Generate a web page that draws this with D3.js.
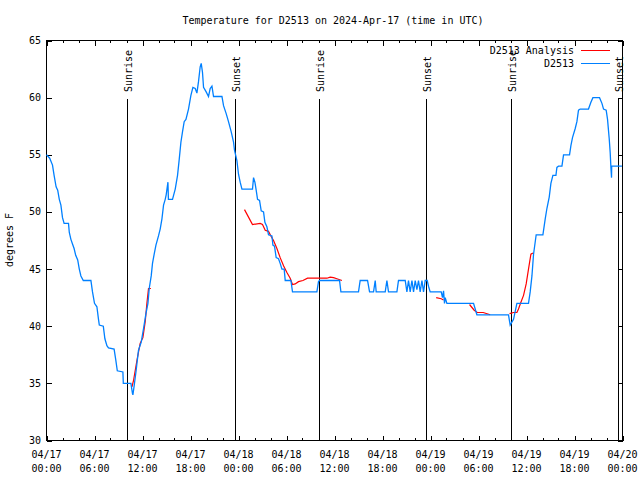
<!DOCTYPE html>
<html><head><meta charset="utf-8">
<script src="https://cdn.jsdelivr.net/npm/d3@7"></script>
<style>
body{margin:0;background:#fff}
text{font-family:"DejaVu Sans Mono","Liberation Mono",monospace;font-size:10px;fill:#000}
</style>
</head><body><svg id="c" width="640" height="480"></svg>
<script>
const chartTitle = "Temperature for D2513 on 2024-Apr-17 (time in UTC)";
const yLabel = "degrees F";
const yTickValues = [30,35,40,45,50,55,60,65];
const startDate = "2024-04-17T00:00:00Z";
const endDate = "2024-04-20T00:00:00Z";
const seriesNames = ["D2513 Analysis","D2513"];

// observed series: hours since 04/17 00:00 UTC, temperature °F
const obsHours = [0.0,0.4,0.75,0.95,1.2,1.4,1.6,1.8,2.0,2.2,2.75,2.85,3.05,3.25,3.45,3.65,3.9,4.1,4.3,4.6,5.55,5.75,6.0,6.3,6.5,6.6,7.1,7.3,7.55,7.75,8.45,8.65,8.85,9.55,9.6,10.55,10.75,10.8,10.96,11.2,11.5,11.84,12.13,12.43,12.68,12.84,
13.09,13.25,13.46,13.68,14.0,14.21,14.43,14.63,14.84,14.96,15.18,15.24,15.75,16.09,16.38,16.59,16.8,17.0,17.21,17.43,17.75,18.05,18.3,18.59,18.8,19.0,19.21,19.34,19.5,19.63,19.96,20.25,20.46,20.68,20.88,21.93,22.13,22.46,22.75,23.09,23.38,23.5,23.8,24.0,24.21,24.43,
25.75,25.88,26.05,26.21,26.38,26.63,26.84,27.13,27.3,27.55,27.75,28.18,28.3,28.5,28.71,29.0,29.21,29.43,29.71,29.84,30.55,30.75,33.8,34.0,34.13,36.63,36.8,39.0,39.21,40.13,40.38,40.88,41.09,41.21,42.34,42.55,42.75,43.8,44.0,44.84,45.05,45.25,45.46,45.68,45.88,46.09,46.3,46.5,46.71,46.93,47.13,47.34,47.59,47.75,47.96,
49.34,49.5,49.63,49.75,49.84,50.05,53.38,53.8,57.75,57.96,58.38,58.8,60.25,60.46,60.68,60.88,61.21,62.05,62.34,62.55,62.84,63.05,63.3,63.68,63.8,64.0,64.43,64.63,65.38,65.55,65.75,66.09,66.3,66.5,66.71,67.75,68.05,68.3,69.13,69.43,69.63,69.96,70.13,70.34,70.46,70.55,70.63,70.65,71.93];
const obsTemps = [55.0,54.7,54.1,53.2,52.2,51.9,51.1,50.6,49.5,49.0,49.0,48.2,47.6,47.2,46.8,46.2,45.8,45.0,44.4,44.0,44.0,43.0,42.0,41.7,40.6,40.1,40.0,38.9,38.3,38.1,38.0,37.1,36.1,36.0,35.0,35.0,34.1,34.0,34.8,36.1,37.9,38.6,39.8,41.1,42.0,43.3,
44.4,45.5,46.3,47.1,47.9,48.5,49.4,50.6,51.1,51.5,52.6,51.1,51.1,52.0,53.2,54.6,56.1,57.0,57.9,58.1,59.0,60.2,60.9,60.8,60.4,61.4,62.7,63.0,62.2,60.9,60.5,60.1,60.8,61.0,60.1,60.1,59.3,58.6,57.9,57.0,56.1,55.4,54.5,53.3,52.6,52.0,
52.0,53.0,52.6,51.9,51.1,51.0,50.1,50.0,49.1,48.7,48.0,47.9,47.1,47.0,46.0,45.9,45.5,45.0,45.0,44.0,44.0,43.0,43.0,43.9,44.0,44.0,43.0,43.0,44.0,44.0,43.0,43.0,44.0,43.0,43.0,44.0,43.0,43.0,44.0,44.0,43.0,44.0,43.0,44.0,43.0,44.0,43.2,44.0,43.0,44.0,43.0,44.0,44.0,43.5,43.0,
43.0,42.5,43.1,42.0,42.5,42.0,42.0,41.0,41.0,40.1,40.6,42.0,42.0,43.0,44.4,46.3,48.0,48.0,49.4,50.3,51.3,52.5,53.2,53.2,53.9,54.0,54.0,55.0,55.0,55.8,56.5,57.3,57.9,58.9,59.0,59.0,59.6,60.0,60.0,59.5,59.0,58.9,58.1,56.4,55.2,53.9,53.0,54.0,54.0];

// analysis series (null = gap)
const anaHours = [10.68,10.88,11.3,11.71,12.05,12.34,12.55,12.75,13.05,null,
24.75,25.75,26.71,27.0,27.34,27.75,28.05,28.38,28.8,29.21,29.63,30.05,30.46,30.75,31.09,31.5,32.05,32.63,33.8,35.05,35.46,35.88,36.3,36.93,null,
48.71,49.34,49.63,null,
52.88,53.46,53.84,54.59,55.46,null,
57.88,58.38,58.8,59.0,59.3,59.63,59.96,60.25,60.55,60.8];
const anaTemps = [34.7,35.25,37.0,38.5,39.0,40.4,42.0,43.3,43.3,null,
50.2,48.9,49.0,48.9,48.4,48.3,47.9,47.5,46.8,46.0,45.3,44.7,44.2,43.65,43.7,43.9,44.0,44.2,44.2,44.2,44.3,44.25,44.15,44.0,null,
42.5,42.4,42.3,null,
41.9,41.4,41.2,41.2,41.0,null,
41.1,41.2,41.2,41.5,42.1,42.7,43.7,45.0,46.3,46.4];

const eventHours = [10.0,23.5,34.0,47.4,58.0,71.4];
const eventNames = ["Sunrise","Sunset","Sunrise","Sunset","Sunrise","Sunset"];

const colors = ["#ff0000","#0080ff"];

const svg = d3.select("#c");
const L=46.5, R=622.5, T=40.5, B=440.5;
const t0 = new Date(startDate).getTime();
const hd = h => new Date(t0 + h*3600e3);
const x = d3.scaleUtc().domain([new Date(startDate), new Date(endDate)]).range([L,R]);
const y = d3.scaleLinear().domain([30,65]).range([B,T]);

// title
svg.append("text").attr("x",333).attr("y",24).attr("text-anchor","middle").text(chartTitle);
// y label
svg.append("text").attr("transform","translate(13,240) rotate(-90)").attr("text-anchor","middle").text(yLabel);

// x ticks
const minorT = d3.utcHour.every(2).range(new Date(startDate), new Date(new Date(endDate).getTime()+1));
const g = svg.append("g").attr("shape-rendering","crispEdges");
minorT.forEach(d=>{
  const major = d.getUTCHours()%6===0;
  const len = major?5:2.5;
  const xx = Math.round(x(d))+0.5;
  g.append("line").attr("x1",xx).attr("x2",xx).attr("y1",B).attr("y2",B-len).attr("stroke","#000");
  g.append("line").attr("x1",xx).attr("x2",xx).attr("y1",T).attr("y2",T+len).attr("stroke","#000");
});
const majorT = d3.utcHour.every(6).range(new Date(startDate), new Date(new Date(endDate).getTime()+1));
const fmtD = d3.utcFormat("%m/%d"), fmtH = d3.utcFormat("%H:%M");
majorT.forEach(d=>{
  svg.append("text").attr("x",x(d)).attr("y",458).attr("text-anchor","middle").text(fmtD(d));
  svg.append("text").attr("x",x(d)).attr("y",472).attr("text-anchor","middle").text(fmtH(d));
});
// y ticks
yTickValues.forEach(v=>{
  const yy = Math.round(y(v))+0.5;
  g.append("line").attr("x1",L).attr("x2",L+5).attr("y1",yy).attr("y2",yy).attr("stroke","#000");
  g.append("line").attr("x1",R).attr("x2",R-5).attr("y1",yy).attr("y2",yy).attr("stroke","#000");
  svg.append("text").attr("x",41).attr("y",y(v)).attr("dy","0.35em").attr("text-anchor","end").text(v);
});

// event lines
eventHours.forEach((h,i)=>{
  const xx = Math.round(x(hd(h)))+0.5;
  g.append("line").attr("x1",xx).attr("x2",xx).attr("y1",99).attr("y2",B).attr("stroke","#000");
  svg.append("text").attr("transform",`translate(${xx+4},92) rotate(-90)`).attr("text-anchor","start").text(eventNames[i]);
});

// series
const line = d3.line().defined(d=>d[0]!=null).x(d=>x(hd(d[0]))).y(d=>y(d[1]));
const anaData = anaHours.map((h,i)=>[h,anaTemps[i]]);
const obsData = obsHours.map((h,i)=>[h,obsTemps[i]]);
svg.append("path").datum(anaData).attr("d",line).attr("fill","none").attr("stroke",colors[0]).attr("stroke-width",1.2);
svg.append("path").datum(obsData).attr("d",line).attr("fill","none").attr("stroke",colors[1]).attr("stroke-width",1.3);

// frame
g.append("rect").attr("x",L).attr("y",T).attr("width",R-L).attr("height",B-T).attr("fill","none").attr("stroke","#000");

// legend
seriesNames.forEach((n,i)=>{
  const yy = 50 + i*13;
  svg.append("text").attr("x",574).attr("y",yy).attr("dy","0.35em").attr("text-anchor","end").text(n);
  g.append("line").attr("x1",581).attr("x2",610).attr("y1",Math.round(yy)+0.5).attr("y2",Math.round(yy)+0.5).attr("stroke",colors[i]);
});
</script>
</body></html>
